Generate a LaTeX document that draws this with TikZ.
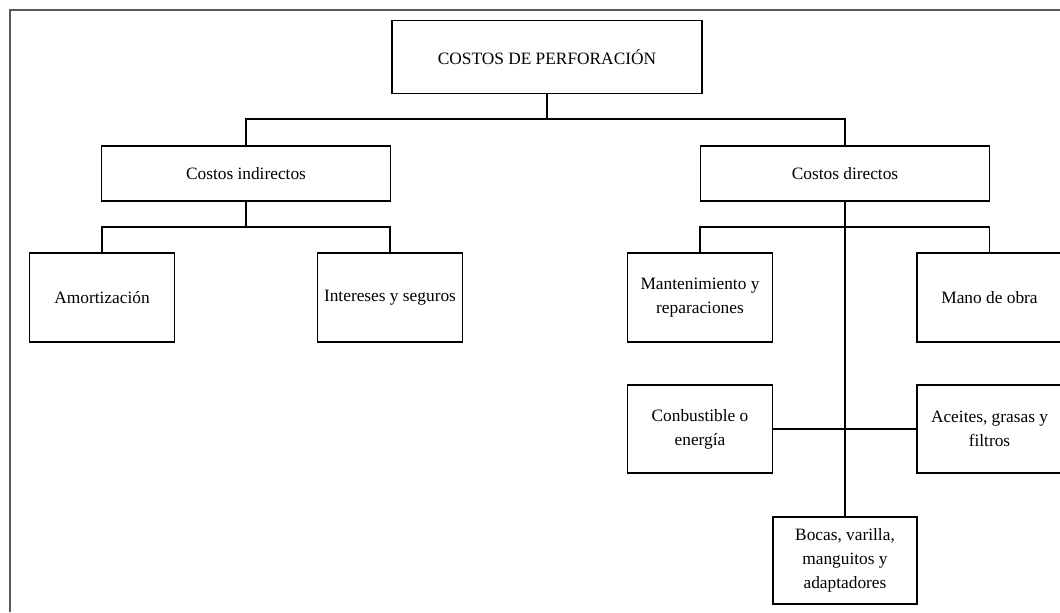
\documentclass[tikz,border=0pt]{standalone}
\usepackage{fontspec}
\setmainfont{Liberation Serif}

\begin{document}
\begin{tikzpicture}[x=0.75pt, y=-0.75pt,
  box/.style={draw, line width=1pt, align=center, inner sep=2pt,
    font=\fontsize{13}{18}\selectfont},
  link/.style={line width=1pt}]
  \useasboundingbox (0,0) rectangle (1060,612);

  % Page frame (only top and left edges are visible)
  \draw[black!65, line width=1pt] (10,612) -- (10,10) -- (1060,10);

  % Top level
  \node[box, minimum width=310*0.75pt, minimum height=73*0.75pt] (top) at (547,57) {COSTOS DE PERFORACIÓN};

  % Second level
  \node[box, minimum width=289*0.75pt, minimum height=55*0.75pt] (ind) at (246,173.5) {Costos indirectos};
  \node[box, minimum width=289*0.75pt, minimum height=55*0.75pt] (dir) at (845,173.5) {Costos directos};

  % Indirect costs
  \node[box, minimum width=145*0.75pt, minimum height=89*0.75pt] (amo) at (102,297.5) {Amortización};
  \node[box, minimum width=145*0.75pt, minimum height=89*0.75pt] (int) at (390,297.5) {Intereses y seguros};

  % Direct costs
  \node[box, minimum width=145*0.75pt, minimum height=89*0.75pt] (mant) at (700,297.5) {Mantenimiento y\\reparaciones};
  \node[box, minimum width=145*0.75pt, minimum height=89*0.75pt] (mano) at (989.5,297.5) {Mano de obra};
  \node[box, minimum width=145*0.75pt, minimum height=88*0.75pt] (comb) at (700,429) {Conbustible o\\energía};
  \node[box, minimum width=145*0.75pt, minimum height=88*0.75pt] (ace) at (989.5,429) {Aceites, grasas y\\filtros};
  \node[box, minimum width=144*0.75pt, minimum height=87*0.75pt] (boc) at (845,560.5) {Bocas, varilla,\\manguitos y\\adaptadores};

  % Connectors
  \coordinate (b1) at (547,119);
  \coordinate (bi) at (246,227);
  \coordinate (bd) at (845,227);
  \draw[link] (top.south) -- (b1);
  \draw[link] (ind.north) |- (b1) -| (dir.north);
  \draw[link] (ind.south) -- (bi);
  \draw[link] (amo.north) |- (bi) -| (int.north);
  \draw[link] (mant.north) |- (bd) -| (mano.north);
  \draw[link] (dir.south) -- (boc.north);
  \draw[link] (comb.east) -- (ace.west);
\end{tikzpicture}
\end{document}
